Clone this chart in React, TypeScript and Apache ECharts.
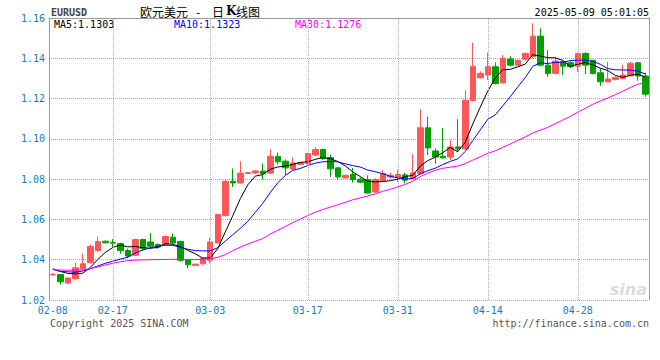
import React, { useEffect, useRef } from 'react';
import * as echarts from 'echarts';

const dates = [
  '02-08', '02-09', '02-10', '02-11', '02-12', '02-13', '02-14', '02-15', '02-17', '02-18',
  '02-19', '02-20', '02-21', '02-22', '02-23', '02-24', '02-25', '02-26', '02-27', '02-28',
  '03-01', '03-03', '03-04', '03-05', '03-06', '03-07', '03-08', '03-09', '03-10', '03-11',
  '03-12', '03-13', '03-14', '03-15', '03-17', '03-18', '03-19', '03-20', '03-21', '03-22',
  '03-24', '03-25', '03-26', '03-27', '03-28', '03-29', '03-31', '04-01', '04-02', '04-03',
  '04-04', '04-05', '04-07', '04-08', '04-09', '04-10', '04-11', '04-12', '04-14', '04-15',
  '04-16', '04-17', '04-18', '04-19', '04-21', '04-22', '04-23', '04-24', '04-25', '04-26',
  '04-28', '04-29', '04-30', '05-02', '05-03', '05-05', '05-06', '05-07', '05-08', '05-09',
];

const opens = [
  1.0325, 1.0326, 1.0284, 1.0306, 1.0355, 1.0385, 1.0445, 1.0492, 1.0485, 1.0480,
  1.0446, 1.0422, 1.0500, 1.0488, 1.0476, 1.0475, 1.0512, 1.0490, 1.0400, 1.0372,
  1.0380, 1.0397, 1.0483, 1.0620, 1.0789, 1.0781, 1.0828, 1.0831, 1.0840, 1.0830,
  1.0913, 1.0889, 1.0850, 1.0873, 1.0877, 1.0920, 1.0947, 1.0907, 1.0856, 1.0806,
  1.0823, 1.0800, 1.0798, 1.0736, 1.0794, 1.0811, 1.0808, 1.0821, 1.0803, 1.0828,
  1.1055, 1.0940, 1.0914, 1.0910, 1.0960, 1.0950, 1.1190, 1.1303, 1.1317, 1.1358,
  1.1278, 1.1396, 1.1366, 1.1395, 1.1408, 1.1510, 1.1366, 1.1325, 1.1383, 1.1378,
  1.1361, 1.1424, 1.1390, 1.1328, 1.1283, 1.1295, 1.1300, 1.1313, 1.1378, 1.1312,
];

const closes = [
  1.0327, 1.0290, 1.0309, 1.0360, 1.0380, 1.0466, 1.0490, 1.0484, 1.0482, 1.0445,
  1.0418, 1.0500, 1.0455, 1.0467, 1.0463, 1.0515, 1.0483, 1.0397, 1.0375, 1.0378,
  1.0408, 1.0488, 1.0625, 1.0789, 1.0781, 1.0830, 1.0833, 1.0841, 1.0828, 1.0914,
  1.0886, 1.0856, 1.0880, 1.0881, 1.0927, 1.0947, 1.0902, 1.0851, 1.0811, 1.0819,
  1.0798, 1.0785, 1.0731, 1.0798, 1.0828, 1.0819, 1.0823, 1.0795, 1.0831, 1.1055,
  1.0955, 1.0910, 1.0906, 1.0960, 1.0950, 1.1192, 1.1360, 1.1325, 1.1358, 1.1275,
  1.1400, 1.1366, 1.1390, 1.1424, 1.1510, 1.1366, 1.1325, 1.1386, 1.1361, 1.1358,
  1.1424, 1.1366, 1.1325, 1.1283, 1.1297, 1.1305, 1.1317, 1.1375, 1.1312, 1.1222,
];

const lows = [
  1.0320, 1.0276, 1.0280, 1.0300, 1.0350, 1.0380, 1.0440, 1.0480, 1.0462, 1.0430,
  1.0407, 1.0420, 1.0445, 1.0455, 1.0455, 1.0472, 1.0478, 1.0390, 1.0358, 1.0370,
  1.0375, 1.0383, 1.0480, 1.0615, 1.0761, 1.0778, 1.0826, 1.0825, 1.0798, 1.0825,
  1.0873, 1.0820, 1.0845, 1.0870, 1.0873, 1.0915, 1.0895, 1.0811, 1.0798, 1.0803,
  1.0783, 1.0780, 1.0728, 1.0733, 1.0790, 1.0802, 1.0786, 1.0778, 1.0800, 1.0822,
  1.0919, 1.0877, 1.0900, 1.0894, 1.0935, 1.0945, 1.1185, 1.1300, 1.1292, 1.1270,
  1.1275, 1.1360, 1.1361, 1.1390, 1.1400, 1.1360, 1.1308, 1.1320, 1.1317, 1.1352,
  1.1333, 1.1322, 1.1320, 1.1263, 1.1280, 1.1290, 1.1295, 1.1310, 1.1288, 1.1209,
];

const highs = [
  1.0335, 1.0328, 1.0312, 1.0385, 1.0430, 1.0475, 1.0515, 1.0495, 1.0502, 1.0485,
  1.0455, 1.0505, 1.0505, 1.0532, 1.0480, 1.0520, 1.0530, 1.0495, 1.0405, 1.0380,
  1.0410, 1.0508, 1.0628, 1.0798, 1.0853, 1.0889, 1.0835, 1.0845, 1.0877, 1.0949,
  1.0932, 1.0898, 1.0907, 1.0885, 1.0932, 1.0960, 1.0952, 1.0922, 1.0860, 1.0822,
  1.0856, 1.0808, 1.0819, 1.0805, 1.0844, 1.0831, 1.0844, 1.0831, 1.0924, 1.1147,
  1.1109, 1.0952, 1.1055, 1.0993, 1.1098, 1.1242, 1.1477, 1.1335, 1.1428, 1.1380,
  1.1416, 1.1411, 1.1395, 1.1428, 1.1574, 1.1549, 1.1441, 1.1408, 1.1390, 1.1385,
  1.1428, 1.1430, 1.1392, 1.1350, 1.1383, 1.1310, 1.1366, 1.1383, 1.1380, 1.1328,
];

// moving-average values before enough closes exist in the window
const ma5Head = [1.0355, 1.0342, 1.0332, 1.0330];
const ma10Head = [1.0353, 1.0342, 1.0340, 1.0338, 1.0344, 1.0355, 1.0369, 1.0382, 1.0392];
const ma30Head = [
  1.0350, 1.0349, 1.0348, 1.0348, 1.0349, 1.0356, 1.0364, 1.0374, 1.0382, 1.0390,
  1.0395, 1.0398, 1.0399, 1.0400, 1.0401, 1.0401, 1.0402, 1.0402, 1.0401, 1.0401,
  1.0402, 1.0405, 1.0412, 1.0425, 1.0445, 1.0462, 1.0478, 1.0492, 1.0505,
];

const xLabelDates = ['02-08', '02-17', '03-03', '03-17', '03-31', '04-14', '04-28'];
const legendTexts = ['MA5:1.1303', 'MA10:1.1323', 'MA30:1.1276'];
const yMin = 1.02;
const yMax = 1.16;
const yStep = 0.02;

function movingAverage(n: number, head: number[]): number[] {
  return closes.map((_, i) => {
    if (i < n - 1) return head[i];
    let s = 0;
    for (let k = i - n + 1; k <= i; k++) s += closes[k];
    return +(s / n).toFixed(5);
  });
}

const MONO = '"DejaVu Sans Mono", "Liberation Mono", monospace';
const CJK = '"Noto Sans CJK SC", sans-serif';
const UP = '#ff5757';
const DOWN = '#00a000';
const GRID = '#aaaaaa';
const BORDER = '#999999';
const AXISBLUE = '#137bc8';

export default function App() {
  const ref = useRef<HTMLDivElement>(null);

  useEffect(() => {
    if (!ref.current) return;
    const chart = echarts.init(ref.current, null, { renderer: 'svg' });
    const kData = dates.map((_, i) => [opens[i], closes[i], lows[i], highs[i]]);
    const ma5 = movingAverage(5, ma5Head);
    const ma10 = movingAverage(10, ma10Head);
    const ma30 = movingAverage(30, ma30Head);
    const labelSet = new Set(xLabelDates);

    const txt = (text: string, x: number, y: number, fill: string, extra: any = {}) => ({
      type: 'text',
      x,
      y,
      silent: true,
      style: {
        text,
        fill,
        fontSize: 10,
        lineHeight: 10,
        fontFamily: MONO,
        align: 'left',
        verticalAlign: 'middle',
        ...extra,
      },
    });

    chart.setOption({
      animation: false,
      backgroundColor: '#ffffff',
      grid: { left: 49, right: 11, top: 18, bottom: 60, show: false },
      xAxis: [
        {
          type: 'category',
          data: dates,
          boundaryGap: true,
          axisLine: { show: false },
          axisTick: { show: false },
          splitLine: { show: false },
          axisLabel: {
            interval: (_i: number, v: string) => labelSet.has(v),
            color: AXISBLUE,
            fontFamily: MONO,
            fontSize: 10,
            margin: 5,
            hideOverlap: false,
          },
        },
        {
          type: 'category',
          data: dates,
          position: 'top',
          boundaryGap: true,
          axisLine: { show: true, lineStyle: { color: BORDER, width: 1 } },
          axisTick: { show: false },
          axisLabel: { show: false },
          splitLine: { show: false },
        },
      ],
      yAxis: [
        {
          type: 'value',
          min: yMin,
          max: yMax,
          interval: yStep,
          position: 'left',
          axisLine: { show: true, lineStyle: { color: BORDER, width: 1 } },
          axisTick: { show: false },
          axisLabel: {
            color: AXISBLUE,
            fontFamily: MONO,
            fontSize: 10,
            margin: 4,
            formatter: (v: number) => v.toFixed(2),
          },
          splitLine: { show: true, lineStyle: { color: GRID, type: [1, 1], width: 1 } },
        },
        {
          type: 'value',
          min: yMin,
          max: yMax,
          interval: yStep,
          position: 'right',
          axisLine: { show: true, lineStyle: { color: BORDER, width: 1 } },
          axisTick: { show: false },
          axisLabel: { show: false },
          splitLine: { show: false },
        },
      ],
      series: [
        {
          type: 'candlestick',
          name: 'K',
          data: kData,
          barWidth: 6,
          silent: true,
          itemStyle: {
            color: UP,
            color0: DOWN,
            borderColor: UP,
            borderColor0: DOWN,
            borderWidth: 1,
          },
        },
        {
          type: 'line',
          name: 'MA5',
          data: ma5,
          symbol: 'none',
          silent: true,
          lineStyle: { color: '#000000', width: 1 },
          markLine: {
            silent: true,
            symbol: ['none', 'none'],
            label: { show: false },
            lineStyle: { color: GRID, type: [1, 1], width: 1 },
            emphasis: { disabled: true },
            data: xLabelDates.slice(1).map((d) => ({ xAxis: d })),
          },
        },
        {
          type: 'line',
          name: 'MA10',
          data: ma10,
          symbol: 'none',
          silent: true,
          lineStyle: { color: '#0000ff', width: 1 },
        },
        {
          type: 'line',
          name: 'MA30',
          data: ma30,
          symbol: 'none',
          silent: true,
          lineStyle: { color: '#ff00ff', width: 1 },
        },
      ],
      graphic: [
        txt('EURUSD', 51, 12, '#444444', { fontWeight: 'bold' }),
        txt('欧元美元', 140, 11, '#000000', { fontSize: 12, lineHeight: 12, fontFamily: CJK }),
        txt('-', 196, 11, '#000000', { fontSize: 12, lineHeight: 12, fontFamily: CJK }),
        txt('日', 212, 11, '#000000', { fontSize: 12, lineHeight: 12, fontFamily: CJK }),
        txt('K', 226, 11, '#000000', { fontSize: 12, lineHeight: 12, fontWeight: 'bold', fontFamily: '"DejaVu Serif", serif' }),
        txt('线图', 236, 11, '#000000', { fontSize: 12, lineHeight: 12, fontFamily: CJK }),
        txt('2025-05-09 05:01:05', 649, 12, '#000000', { align: 'right' }),
        txt(legendTexts[0], 54, 24, '#000000'),
        txt(legendTexts[1], 174, 24, '#0000ff'),
        txt(legendTexts[2], 295, 24, '#ff00ff'),
        txt('sina', 647, 289, '#dcdcdc', {
          align: 'right',
          fontSize: 16,
          lineHeight: 16,
          fontStyle: 'italic',
          fontWeight: 'bold',
          fontFamily: '"DejaVu Sans", sans-serif',
        }),
        txt('Copyright 2025 SINA.COM', 50, 323, '#555555'),
        txt('http://finance.sina.com.cn', 649, 323, '#555555', { align: 'right' }),
      ],
    });

    return () => chart.dispose();
  }, []);

  return (
    <div
      ref={ref}
      style={{ position: 'absolute', left: 0, top: 0, width: 660, height: 360, background: '#fff' }}
    />
  );
}
